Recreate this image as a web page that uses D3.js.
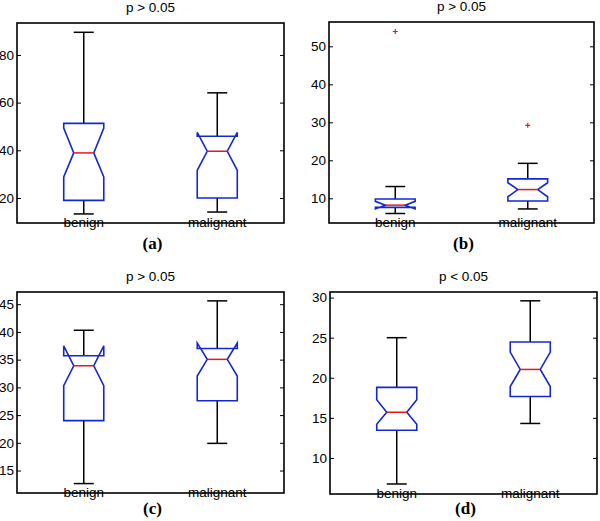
<!DOCTYPE html>
<html>
<head>
<meta charset="utf-8">
<script src="https://cdn.jsdelivr.net/npm/d3@7"></script>
<style>
  body { margin: 0; background: #fff; }
  svg { display: block; }
</style>
</head>
<body>
<svg id="chart" width="600" height="521"></svg>
<script>
// groups on the x axis
const categories = ["benign", "malignant"]

// panel titles / sub labels
const titles = ["p > 0.05", "p > 0.05", "p > 0.05", "p < 0.05"]
const subLabels = ["(a)", "(b)", "(c)", "(d)"]

// y limits and tick values for each panel
const yLimits = [[9.5, 93.4], [3.5, 56.4], [10.95, 47.2], [5.5, 30.7]]
const yTicks = [[20, 40, 60, 80], [10, 20, 30, 40, 50], [15, 20, 25, 30, 35, 40, 45], [10, 15, 20, 25, 30]]

// box stats per panel, [benign, malignant]
// each: [whiskerLo, q1, notchLo, median, notchHi, q3, whiskerHi]
const statsA = [[13.3, 19.0, 28.8, 38.9, 49.3, 51.3, 89.5], [14.1, 20.0, 31.6, 39.6, 47.5, 45.9, 64.1]]
const statsB = [[6.0, 7.6, 7.2, 8.2, 9.2, 9.8, 13.1], [7.2, 9.3, 10.4, 12.3, 14.1, 15.1, 19.2]]
const statsC = [[12.65, 24.0, 30.3, 33.9, 37.5, 35.7, 40.3], [19.9, 27.6, 32.05, 35.05, 38.0, 37.0, 45.6]]
const statsD = [[6.75, 13.46, 14.2, 15.7, 17.25, 18.8, 25.0], [14.3, 17.67, 18.9, 21.04, 23.2, 24.46, 29.6]]
const allStats = [statsA, statsB, statsC, statsD]

// outliers per panel, [benign, malignant]
const outliers = [[[], []], [[53.9], [29.2]], [[], []], [[], []]]

// axes frames [left, top, right, bottom]
const frames = [[17, 23, 284, 223], [329, 22, 594, 223], [17, 292, 284, 493], [330, 292, 597, 494]]

const svg = d3.select("#chart")
const blue = "#1428d2"
const red = "#e41a1a"
const font = "'Liberation Sans', Arial, sans-serif"

frames.forEach((f, p) => {
  let [left, top, right, bottom] = f
  let g = svg.append("g")

  const xScale = d3.scaleLinear().domain([0.5, 2.5]).range([left, right])
  const yScale = d3.scaleLinear().domain(yLimits[p]).range([bottom, top])

  const boxHalf = (xScale(1.15) - xScale(1)) 

  // boxes
  allStats[p].forEach((s, i) => {
    let [wLo, q1, nLo, med, nHi, q3, wHi] = s
    let cx = xScale(i + 1)
    let l = cx - boxHalf, r = cx + boxHalf
    let nl = cx - boxHalf / 2, nr = cx + boxHalf / 2

    // whiskers
    g.append("line").attr("x1", cx).attr("x2", cx).attr("y1", yScale(q3)).attr("y2", yScale(wHi))
      .attr("stroke", "#000").attr("stroke-width", 1.5)
    g.append("line").attr("x1", cx).attr("x2", cx).attr("y1", yScale(q1)).attr("y2", yScale(wLo))
      .attr("stroke", "#000").attr("stroke-width", 1.5)
    ;[wHi, wLo].forEach(v => {
      g.append("line").attr("x1", nl).attr("x2", nr).attr("y1", yScale(v)).attr("y2", yScale(v))
        .attr("stroke", "#000").attr("stroke-width", 1.5)
    })

    // notched box outline
    let pts = [
      [l, q1], [l, nLo], [nl, med], [l, nHi], [l, q3],
      [r, q3], [r, nHi], [nr, med], [r, nLo], [r, q1]
    ]
    g.append("path")
      .attr("d", "M" + pts.map(d => d[0] + "," + yScale(d[1])).join("L") + "Z")
      .attr("fill", "none").attr("stroke", blue).attr("stroke-width", 1.6)

    // median
    g.append("line").attr("x1", nl).attr("x2", nr).attr("y1", yScale(med)).attr("y2", yScale(med))
      .attr("stroke", red).attr("stroke-width", 1.5)

    // outliers
    outliers[p][i].forEach(v => {
      let y = yScale(v)
      g.append("path").attr("d", `M${cx - 2.5},${y}H${cx + 2.5}M${cx},${y - 2.5}V${y + 2.5}`)
        .attr("stroke", red).attr("stroke-width", 1.2)
    })

    // group label sits on the bottom axis line
    g.append("text").attr("x", cx).attr("y", bottom + 3.5)
      .attr("text-anchor", "middle").attr("font-family", font).attr("font-size", "13.5px")
      .text(categories[i])
  })

  // axes
  g.append("g").attr("transform", `translate(${left},0)`)
    .call(d3.axisLeft(yScale).tickValues(yTicks[p]).tickSizeInner(-4).tickSizeOuter(0).tickPadding(3))
    .call(a => a.select(".domain").remove())
    .call(a => a.selectAll("line").attr("stroke-width", 1))
    .attr("font-size", "13.5px").attr("font-family", font)

  g.append("g").attr("transform", `translate(${right},0)`)
    .call(d3.axisRight(yScale).tickValues(yTicks[p]).tickSizeInner(-4).tickSizeOuter(0).tickFormat(""))
    .call(a => a.select(".domain").remove())
    .call(a => a.selectAll("line").attr("stroke-width", 1))

  g.append("rect").attr("x", left).attr("y", top).attr("width", right - left).attr("height", bottom - top)
    .attr("fill", "none").attr("stroke", "#000").attr("stroke-width", 1.6)

  // title + sub label
  g.append("text").attr("x", (left + right) / 2).attr("y", top - 11)
    .attr("text-anchor", "middle").attr("font-family", font).attr("font-size", "13.5px")
    .text(titles[p])

  g.append("text").attr("x", (left + right) / 2 + 2).attr("y", Math.min(bottom + 26, 514))
    .attr("text-anchor", "middle").attr("font-family", "'Liberation Serif', 'Times New Roman', serif")
    .attr("font-weight", "bold").attr("font-size", "17px")
    .text(subLabels[p])
})
</script>
</body>
</html>
